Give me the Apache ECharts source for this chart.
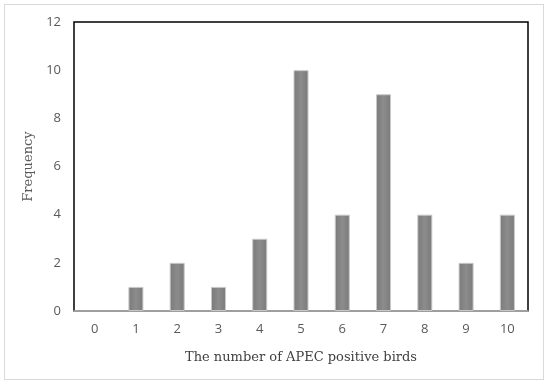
<!DOCTYPE html>
<html><head><meta charset="utf-8">
<script src="https://cdn.jsdelivr.net/npm/echarts@6/dist/echarts.min.js"></script>
<style>html,body{margin:0;padding:0;background:#fff}#c{width:550px;height:385px}
#frame{position:absolute;left:4px;top:4px;width:540px;height:376px;border:1px solid #d9d9d9;box-sizing:border-box;pointer-events:none}</style>
</head><body><div id="c"></div><div id="frame"></div>
<script>
const categories = ['0','1','2','3','4','5','6','7','8','9','10'];
const frequency = [0,1,2,1,3,10,4,9,4,2,4];
const yTicks = [0,2,4,6,8,10,12];
const chart = echarts.init(document.getElementById('c'));
chart.setOption({
  animation:false,
  grid:{left:74,right:22,top:22,bottom:74,show:true,borderColor:'#000',borderWidth:1.5,backgroundColor:'transparent'},
  xAxis:{type:'category',data:categories,
    axisLine:{lineStyle:{color:'#bfbfbf',width:1.5}},axisTick:{show:false},
    axisLabel:{color:'#595959',fontFamily:'Open Sans',fontSize:13,margin:12},
    name:'The number of APEC positive birds',nameLocation:'middle',nameGap:40,
    nameTextStyle:{color:'#404040',fontFamily:'DejaVu Serif',fontSize:13}},
  yAxis:{type:'value',min:0,max:12,interval:2,
    axisLine:{show:false},axisTick:{show:false},splitLine:{show:false},
    axisLabel:{color:'#595959',fontFamily:'Open Sans',fontSize:13,margin:13},
    name:'Frequency',nameLocation:'middle',nameGap:38,
    nameTextStyle:{color:'#595959',fontFamily:'DejaVu Serif',fontSize:13}},
  series:[{type:'bar',data:frequency.map(v => v === 0 ? {value:v,itemStyle:{borderWidth:0,opacity:0}} : v),barWidth:15,
    itemStyle:{color:new echarts.graphic.LinearGradient(0,0,1,0,[{offset:0,color:'#7a7a7a'},{offset:0.5,color:'#8c8c8c'},{offset:1,color:'#7a7a7a'}]),borderColor:'#c8c8c8',borderWidth:1}}]
});
</script></body></html>
